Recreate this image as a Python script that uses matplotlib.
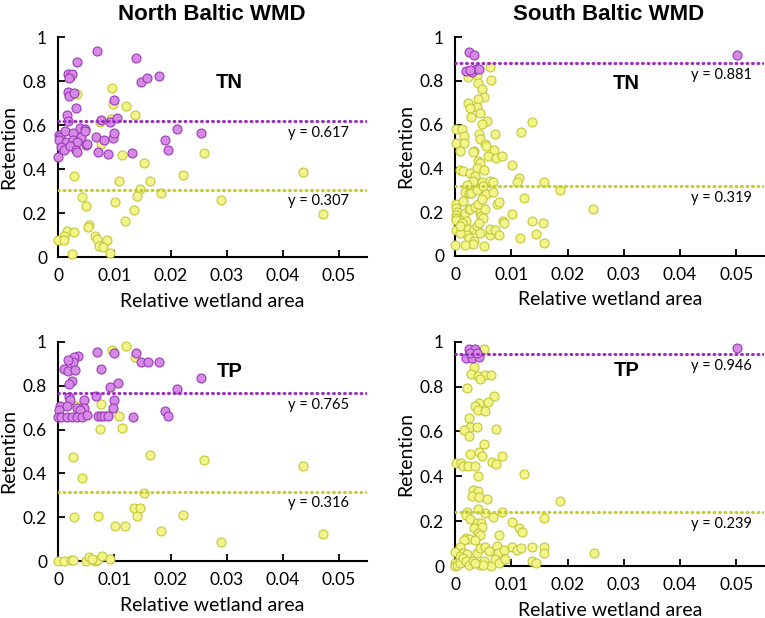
import numpy as np
import matplotlib
matplotlib.use("Agg")
import matplotlib.pyplot as plt

plt.rcParams['font.family'] = ['Lato', 'DejaVu Sans']

# ---- North Baltic WMD, TN ----
ntn_hi_x = [0.0, 0.0069, 0.0034, 0.0139, 0.0018, 0.0021, 0.0025, 0.0019, 0.0147, 0.0159, 0.018,
            0.0017, 0.0019, 0.0028, 0.0031, 0.0100, 0.0016, 0.0018, 0.0077, 0.0093, 0.0105,
            0.0039, 0.0047, 0.0211, 0.0254, 0.0001, 0.0004, 0.0013, 0.0026, 0.0041, 0.0047,
            0.0001, 0.0014, 0.0027, 0.0033, 0.0005, 0.0011, 0.0021, 0.0032, 0.0033, 0.005,
            0.0052, 0.0068, 0.0081, 0.0071, 0.0088, 0.0097, 0.0100, 0.0131, 0.0191, 0.0195]
ntn_hi_y = [0.455, 0.935, 0.885, 0.905, 0.83, 0.82, 0.83, 0.815, 0.797, 0.814, 0.824,
            0.75, 0.73, 0.748, 0.679, 0.715, 0.644, 0.62, 0.621, 0.614, 0.63,
            0.586, 0.582, 0.583, 0.562, 0.553, 0.545, 0.573, 0.564, 0.545, 0.573,
            0.53, 0.523, 0.533, 0.523, 0.5, 0.485, 0.503, 0.488, 0.477, 0.51,
            0.512, 0.545, 0.53, 0.477, 0.468, 0.541, 0.565, 0.471, 0.532, 0.488]
ntn_lo_x = [0.0034, 0.0095, 0.0097, 0.012, 0.0136, 0.0094, 0.0074, 0.0076, 0.0114, 0.0152,
            0.026, 0.0028, 0.0108, 0.0164, 0.0222, 0.0435, 0.0145, 0.014, 0.0183, 0.029,
            0.0042, 0.0049, 0.0101, 0.0135, 0.0119, 0.0471, 0.0055, 0.0054, 0.0015, 0.0028,
            0.0011, 0.0, 0.0011, 0.0066, 0.007, 0.0087, 0.0072, 0.0079, 0.0093, 0.0024]
ntn_lo_y = [0.742, 0.77, 0.694, 0.688, 0.647, 0.626, 0.612, 0.512, 0.462, 0.426,
            0.474, 0.368, 0.344, 0.345, 0.373, 0.389, 0.309, 0.279, 0.291, 0.258,
            0.271, 0.233, 0.252, 0.215, 0.165, 0.194, 0.148, 0.136, 0.117, 0.115,
            0.098, 0.076, 0.076, 0.097, 0.08, 0.079, 0.05, 0.044, 0.02, 0.012]

# ---- South Baltic WMD, TN ----
stn_hi_x = [0.0024, 0.0034, 0.0501, 0.0019, 0.003, 0.0037, 0.0043, 0.0026]
stn_hi_y = [0.932, 0.92, 0.92, 0.844, 0.839, 0.855, 0.855, 0.848]
stn_lo_x = [0.0062, 0.0063, 0.0023, 0.0039, 0.0041, 0.0048, 0.0052, 0.004, 0.0022, 0.0038,
            0.0026, 0.0044, 0.0028, 0.0057, 0.0047, 0.0136, 0.0118, 0.0002, 0.0012, 0.0015,
            0.0042, 0.007, 0.0001, 0.0015, 0.0044, 0.0053, 0.0055, 0.0034, 0.0031, 0.0009,
            0.0069, 0.0059, 0.0072, 0.0083, 0.0041, 0.0045, 0.0102, 0.0009, 0.0014, 0.0026,
            0.0038, 0.0052, 0.0113, 0.011, 0.0035, 0.0031, 0.0048, 0.0062, 0.0068, 0.0158,
            0.0186, 0.0021, 0.0017, 0.0025, 0.0028, 0.0039, 0.005, 0.0054, 0.0068, 0.0123,
            0.0246, 0.0001, 0.0002, 0.0004, 0.0002, 0.0001, 0.0002, 0.0001, 0.0014, 0.0017,
            0.0024, 0.0026, 0.0036, 0.0041, 0.0047, 0.0044, 0.0046, 0.0049, 0.0053, 0.002,
            0.0013, 0.0014, 0.0023, 0.0021, 0.0024, 0.0034, 0.0038, 0.0043, 0.0044, 0.0033,
            0.0031, 0.0018, 0.0, 0.0052, 0.0062, 0.0062, 0.007, 0.0078, 0.0075, 0.0078,
            0.0085, 0.0087, 0.0101, 0.0116, 0.0136, 0.0143, 0.0156, 0.0158, 0.0009, 0.0008]
stn_lo_y = [0.864, 0.803, 0.818, 0.826, 0.788, 0.761, 0.724, 0.715, 0.697, 0.682,
            0.677, 0.653, 0.636, 0.618, 0.602, 0.612, 0.564, 0.582, 0.582, 0.55,
            0.555, 0.559, 0.518, 0.518, 0.535, 0.512, 0.5, 0.477, 0.473, 0.48,
            0.485, 0.455, 0.445, 0.455, 0.435, 0.424, 0.414, 0.394, 0.386, 0.379,
            0.402, 0.391, 0.358, 0.336, 0.364, 0.341, 0.339, 0.341, 0.338, 0.339,
            0.3, 0.324, 0.291, 0.288, 0.288, 0.303, 0.318, 0.285, 0.294, 0.264,
            0.212, 0.238, 0.22, 0.2, 0.185, 0.174, 0.162, 0.118, 0.25, 0.194,
            0.212, 0.212, 0.224, 0.239, 0.258, 0.197, 0.182, 0.174, 0.215, 0.159,
            0.148, 0.114, 0.121, 0.094, 0.083, 0.121, 0.136, 0.152, 0.106, 0.068,
            0.053, 0.05, 0.05, 0.045, 0.094, 0.121, 0.118, 0.094, 0.236, 0.247,
            0.159, 0.148, 0.192, 0.082, 0.158, 0.102, 0.15, 0.061, 0.106, 0.136]

# ---- North Baltic WMD, TP ----
ntp_hi_x = [0.0069, 0.01, 0.0139, 0.0147, 0.016, 0.018, 0.0036, 0.0028, 0.0026, 0.0018,
            0.001, 0.0017, 0.003, 0.0076, 0.0024, 0.002, 0.0106, 0.0093, 0.0254, 0.0211,
            0.0068, 0.002, 0.0021, 0.0046, 0.01, 0.0004, 0.0015, 0.0034, 0.0046, 0.0039,
            0.0097, 0.0001, 0.0191, 0.0195, 0.0, 0.0005, 0.0015, 0.0024, 0.0034, 0.0042,
            0.0052, 0.0071, 0.0076, 0.0082, 0.0088, 0.0133]
ntp_hi_y = [0.954, 0.947, 0.951, 0.907, 0.907, 0.907, 0.935, 0.929, 0.907, 0.915,
            0.878, 0.865, 0.871, 0.874, 0.822, 0.807, 0.812, 0.795, 0.833, 0.784,
            0.754, 0.746, 0.734, 0.734, 0.734, 0.707, 0.707, 0.696, 0.696, 0.687,
            0.698, 0.687, 0.684, 0.663, 0.658, 0.658, 0.658, 0.658, 0.658, 0.658,
            0.666, 0.661, 0.661, 0.661, 0.661, 0.655]
ntp_lo_x = [0.0121, 0.0095, 0.0136, 0.0034, 0.0076, 0.0088, 0.0108, 0.0074, 0.0113, 0.0026,
            0.0164, 0.026, 0.0435, 0.0043, 0.0152, 0.0135, 0.0145, 0.014, 0.0222, 0.0028,
            0.0071, 0.0101, 0.0119, 0.0183, 0.029, 0.0471, 0.0, 0.0011, 0.0023, 0.0027,
            0.0049, 0.0055, 0.0066, 0.007, 0.0078, 0.0093, 0.0061]
ntp_lo_y = [0.979, 0.962, 0.929, 0.707, 0.717, 0.664, 0.66, 0.603, 0.605, 0.476,
            0.486, 0.459, 0.435, 0.377, 0.311, 0.244, 0.244, 0.208, 0.21, 0.2,
            0.205, 0.158, 0.161, 0.138, 0.087, 0.125, 0.0, 0.0, 0.005, 0.005,
            0.0, 0.02, 0.002, 0.005, 0.024, 0.012, 0.01]

# ---- South Baltic WMD, TP ----
stp_hi_x = [0.0024, 0.0035, 0.0501, 0.0019, 0.003, 0.0043, 0.0026, 0.0038]
stp_hi_y = [0.966, 0.967, 0.973, 0.927, 0.927, 0.93, 0.948, 0.948]
stp_lo_x = [0.0052, 0.0034, 0.0029, 0.004, 0.0053, 0.0063, 0.0045, 0.0021, 0.0069, 0.0059,
            0.0042, 0.0035, 0.004, 0.0053, 0.0025, 0.0026, 0.0038, 0.0015, 0.0072, 0.0025,
            0.0052, 0.0027, 0.0043, 0.0047, 0.0084, 0.0066, 0.0072, 0.0002, 0.0011, 0.0014,
            0.0022, 0.0036, 0.0123, 0.0041, 0.0031, 0.0041, 0.003, 0.0043, 0.0057, 0.0186,
            0.0021, 0.0041, 0.0053, 0.0084, 0.002, 0.0027, 0.0068, 0.0158, 0.0038, 0.0046,
            0.0034, 0.0047, 0.0102, 0.0113, 0.0119, 0.004, 0.0044, 0.0019, 0.0024, 0.0016,
            0.0035, 0.0078, 0.0009, 0.0, 0.0014, 0.0008, 0.0021, 0.0039, 0.0044, 0.0053,
            0.006, 0.0075, 0.0077, 0.0086, 0.0102, 0.011, 0.0118, 0.0137, 0.0158, 0.0158,
            0.0247, 0.0136, 0.0143, 0.0, 0.0, 0.0004, 0.0009, 0.0014, 0.002, 0.0025,
            0.0032, 0.0044, 0.0052, 0.0063, 0.007, 0.0078, 0.0088, 0.005, 0.0036]
stp_lo_y = [0.966, 0.889, 0.856, 0.847, 0.854, 0.85, 0.835, 0.796, 0.758, 0.733,
            0.725, 0.712, 0.694, 0.693, 0.658, 0.621, 0.618, 0.606, 0.612, 0.578,
            0.546, 0.5, 0.51, 0.492, 0.49, 0.465, 0.453, 0.458, 0.458, 0.447,
            0.447, 0.447, 0.41, 0.401, 0.339, 0.334, 0.312, 0.309, 0.299, 0.29,
            0.241, 0.253, 0.235, 0.239, 0.228, 0.211, 0.218, 0.214, 0.193, 0.193,
            0.172, 0.175, 0.195, 0.171, 0.15, 0.149, 0.137, 0.125, 0.122, 0.116,
            0.116, 0.14, 0.083, 0.061, 0.059, 0.046, 0.053, 0.059, 0.08, 0.086,
            0.068, 0.089, 0.059, 0.071, 0.086, 0.071, 0.079, 0.086, 0.086, 0.059,
            0.059, 0.021, 0.015, 0.012, 0.0, 0.003, 0.012, 0.034, 0.024, 0.004,
            0.024, 0.003, 0.024, 0.0, 0.03, 0.012, 0.03, 0.004, 0.015]

means = {'ntn': (0.617, 0.307), 'stn': (0.881, 0.319),
         'ntp': (0.765, 0.316), 'stp': (0.946, 0.239)}

purple_fill = '#d68ae8'
purple_edge = '#9a3cb4'
yellow_fill = '#f3f58a'
yellow_edge = '#c2c83a'
purple_line = '#9b2fc0'
yellow_line = '#c4cc30'

fig = plt.figure(figsize=(7.65, 6.18), dpi=100)

# axes positions (left, bottom, width, height) in figure fractions
boxes = {
    'ntn': [0.076, 0.584, 0.404, 0.356],
    'stn': [0.595, 0.586, 0.404, 0.354],
    'ntp': [0.076, 0.092, 0.404, 0.355],
    'stp': [0.595, 0.084, 0.404, 0.363],
}
panels = [
    ('ntn', ntn_hi_x, ntn_hi_y, ntn_lo_x, ntn_lo_y, 'TN', 0.795),
    ('stn', stn_hi_x, stn_hi_y, stn_lo_x, stn_lo_y, 'TN', 0.79),
    ('ntp', ntp_hi_x, ntp_hi_y, ntp_lo_x, ntp_lo_y, 'TP', 0.866),
    ('stp', stp_hi_x, stp_hi_y, stp_lo_x, stp_lo_y, 'TP', 0.871),
]

for key, hx, hy, lx, ly, lab, laby in panels:
    ax = fig.add_axes(boxes[key])
    ax.scatter(lx, ly, s=42, c=yellow_fill, edgecolors=yellow_edge, linewidths=0.8,
               zorder=3, clip_on=False)
    ax.scatter(hx, hy, s=42, c=purple_fill, edgecolors=purple_edge, linewidths=0.8,
               zorder=4, clip_on=False)
    m_hi, m_lo = means[key]
    ax.axhline(m_hi, color=purple_line, lw=2.2, ls=(0, (0.3, 1.5)),
               dash_capstyle='round', zorder=5)
    ax.axhline(m_lo, color=yellow_line, lw=2.2, ls=(0, (0.3, 1.5)),
               dash_capstyle='round', zorder=5)
    xr = 0.0518 if key in ('ntn', 'ntp') else 0.0528
    ax.text(xr, m_hi - 0.053, 'y = %.3f' % m_hi, ha='right', va='center', fontsize=10.5)
    ax.text(xr, m_lo - 0.053, 'y = %.3f' % m_lo, ha='right', va='center', fontsize=10.5)
    ax.text(0.0305, laby, lab, ha='center', va='center', fontsize=14.5, fontweight='bold',
            family='Liberation Sans')

    ax.set_xlim(0, 0.055)
    ax.set_ylim(0, 1)
    ax.set_xticks([0, 0.01, 0.02, 0.03, 0.04, 0.05])
    ax.set_xticklabels(['0', '0.01', '0.02', '0.03', '0.04', '0.05'])
    ax.set_yticks([0, 0.2, 0.4, 0.6, 0.8, 1.0])
    ax.set_yticklabels(['0', '0.2', '0.4', '0.6', '0.8', '1'])
    ax.tick_params(direction='in', length=5, width=1.3, labelsize=12.5, pad=8)
    for s in ('top', 'right'):
        ax.spines[s].set_visible(False)
    for s in ('left', 'bottom'):
        ax.spines[s].set_linewidth(1.5)
    ax.set_xlabel('Relative wetland area', fontsize=14, labelpad=6)
    ax.set_ylabel('Retention', fontsize=14, labelpad=4)

fig.text(0.277, 0.977, 'North Baltic WMD', ha='center', va='center', fontsize=16,
         fontweight='bold', family='Liberation Sans')
fig.text(0.796, 0.977, 'South Baltic WMD', ha='center', va='center', fontsize=16,
         fontweight='bold', family='Liberation Sans')

fig.savefig('out.png', dpi=100)
